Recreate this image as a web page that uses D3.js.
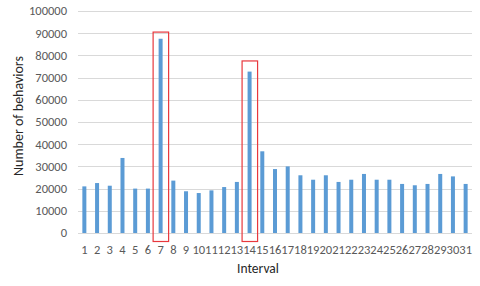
<!DOCTYPE html>
<html>
<head>
<meta charset="utf-8">
<script src="https://cdn.jsdelivr.net/npm/d3@7"></script>
<style>
    body { margin: 0; background: #fff; }
    text { font-family: Calibri, Carlito, "Liberation Sans", Arial, sans-serif; }
</style>
</head>
<body>
<svg id="chart" width="480" height="286"></svg>
<script>
// data
let intervals = d3.range(1, 32).map(String);
let behaviors = [
    21000, 22500, 21300, 33800, 20000, 20000, 87500, 23600, 18800, 18000,
    19200, 20700, 23000, 72700, 36800, 28800, 30000, 26000, 24000, 26000,
    23000, 24000, 26600, 24000, 24000, 22100, 21500, 22100, 26600, 25500,
    22100
];
let yTicks = [0, 10000, 20000, 30000, 40000, 50000, 60000, 70000, 80000, 90000, 100000];
// highlighted intervals and the value the red box reaches up to
let highlighted = ["7", "14"];
let boxTops = [90500, 77500];

let margin = { top: 11, right: 8, bottom: 53, left: 78 };
let width = 480, height = 286;

let svg = d3.select("#chart");

let x = d3.scaleBand()
    .domain(intervals)
    .range([margin.left, width - margin.right])
    .paddingInner(0)
    .paddingOuter(0);

let y = d3.scaleLinear()
    .domain([0, 100000])
    .range([height - margin.bottom, margin.top]);

// gridlines
svg.append("g")
    .selectAll("line")
    .data(yTicks)
    .join("line")
    .attr("x1", margin.left)
    .attr("x2", width - margin.right)
    .attr("y1", (d) => Math.round(y(d)) + 0.5)
    .attr("y2", (d) => Math.round(y(d)) + 0.5)
    .attr("stroke", "#d9d9d9")
    .attr("stroke-width", 1);

// y tick labels
svg.append("g")
    .selectAll("text")
    .data(yTicks)
    .join("text")
    .attr("x", margin.left - 11)
    .attr("y", (d) => y(d))
    .attr("dy", "0.35em")
    .attr("text-anchor", "end")
    .attr("font-size", 12.5)
    .attr("fill", "#595959")
    .text((d) => d);

// bars
let barW = 4;
svg.append("g")
    .selectAll("rect")
    .data(behaviors)
    .join("rect")
    .attr("x", (d, i) => x(intervals[i]) + x.bandwidth() / 2 - barW / 2)
    .attr("y", (d) => y(d))
    .attr("width", barW)
    .attr("height", (d) => y(0) - y(d))
    .attr("fill", "#5b9bd5");

// x tick labels
svg.append("g")
    .selectAll("text")
    .data(intervals)
    .join("text")
    .attr("x", (d) => x(d) + x.bandwidth() / 2)
    .attr("y", y(0) + 17)
    .attr("dy", "0.35em")
    .attr("text-anchor", "middle")
    .attr("font-size", 12.5)
    .attr("fill", "#595959")
    .text((d) => d);

// red boxes
highlighted.forEach((cat, i) => {
    let cx = x(cat) + x.bandwidth() / 2;
    svg.append("rect")
        .attr("x", cx - 7.5)
        .attr("y", y(boxTops[i]))
        .attr("width", 15.5)
        .attr("height", y(0) + 8.5 - y(boxTops[i]))
        .attr("fill", "none")
        .attr("stroke", "#e8383d")
        .attr("stroke-width", 1.2);
});

// axis titles
svg.append("text")
    .attr("x", (margin.left + width - margin.right) / 2 - 17)
    .attr("y", 268)
    .attr("dy", "0.35em")
    .attr("text-anchor", "middle")
    .attr("font-size", 13.5)
    .attr("fill", "#262626")
    .text("Interval");

svg.append("text")
    .attr("transform", "translate(18,116) rotate(-90)")
    .attr("dy", "0.35em")
    .attr("text-anchor", "middle")
    .attr("font-size", 14)
    .attr("fill", "#262626")
    .text("Number of behaviors");
</script>
</body>
</html>
